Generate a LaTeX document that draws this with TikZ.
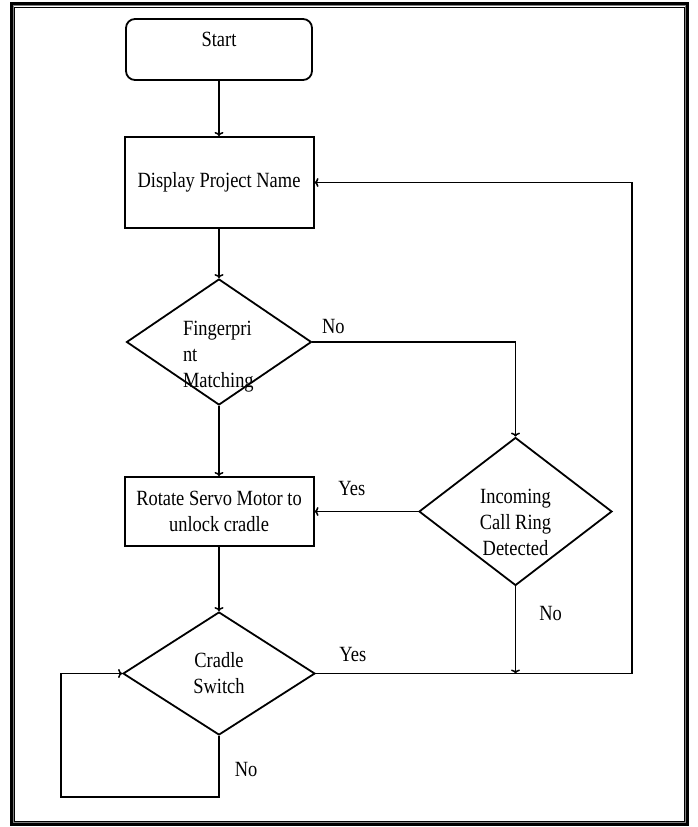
\documentclass[tikz,border=0pt]{standalone}
\usepackage{fontspec}
\setmainfont{Liberation Serif}[FakeStretch=0.85]
\usepackage{tikz}
\usetikzlibrary{shapes.geometric,positioning,arrows.meta}

\begin{document}
\begin{tikzpicture}[x=1pt,y=1pt,->,>={To[length=4pt,width=9pt]},line width=1.5pt,node distance=150pt,
        font=\fontsize{21.7pt}{26pt}\selectfont,
        startbox/.style={draw,rounded corners=9pt,line width=1.8pt,minimum width=186pt,minimum height=61pt},
        procbox/.style={draw,line width=2pt,minimum width=189pt,align=center},
        decision/.style={draw,diamond,aspect=1.5,inner sep=0pt,line width=1.8pt,align=center},
        lbl/.style={inner sep=1pt}]
      \useasboundingbox (0,0) rectangle (697,-827);
      % page frame
      \draw[-,line width=3pt] (11.5,-3.5) rectangle (687.5,-824.5);
      \draw[-,gray,line width=1pt] (13.5,-5.5) rectangle (685.5,-822.5);
      \draw[-,line width=1pt] (14.8,-7) rectangle (684.2,-821);

      \node[startbox,text depth=20pt] (start) at (219,-49.5) {Start};
      \node[procbox,minimum height=91pt] (disp) [below of=start,node distance=133pt] {Display Project Name};
      \node[decision,minimum width=185pt,minimum height=126pt,text width=72pt,align=left,
            text height=29pt,text depth=43pt] (finger) [below of=disp,node distance=159.5pt] {Fingerpri\\nt\\Matching};
      \node[procbox,minimum height=69pt] (rotate) [below of=finger,node distance=169.5pt] {Rotate Servo Motor to\\unlock cradle};
      \node[decision,minimum width=193pt,minimum height=148pt,text width=80pt,align=flush center,
            text height=28pt,text depth=44pt] (ring) [right of=rotate,node distance=296.5pt] {Incoming\\Call Ring\\Detected};
      \node[decision,minimum width=192pt,minimum height=123pt] (cradle) [below of=rotate,node distance=162pt] {Cradle\\Switch};
      \coordinate[right of=cradle,node distance=413pt] (turn);
      \coordinate[below of=cradle,node distance=123.5pt] (loopa);
      \coordinate[left of=loopa,node distance=158pt] (loopb);

      \draw (start) -- (disp);
      \draw (disp) -- (finger);
      \draw (finger) -- (rotate);
      \draw (rotate) -- (cradle);
      \draw (finger.east) node[lbl,above right=7pt and 8pt] {No} -| (ring.north);
      \draw (ring.west) -- node[lbl,above=14pt,pos=0.64] {Yes} (rotate.east);
      \draw (ring.south) -- node[lbl,right=22pt,pos=0.31] {No} (ring |- cradle);
      \draw (cradle.east) -- node[lbl,above=10pt,pos=0.117] {Yes} (turn) |- (disp.east);
      \draw (cradle.south) -- node[lbl,right=14pt,pos=0.55] {No} (loopa) -- (loopb) |- (cradle.west);
    \end{tikzpicture}
\end{document}
